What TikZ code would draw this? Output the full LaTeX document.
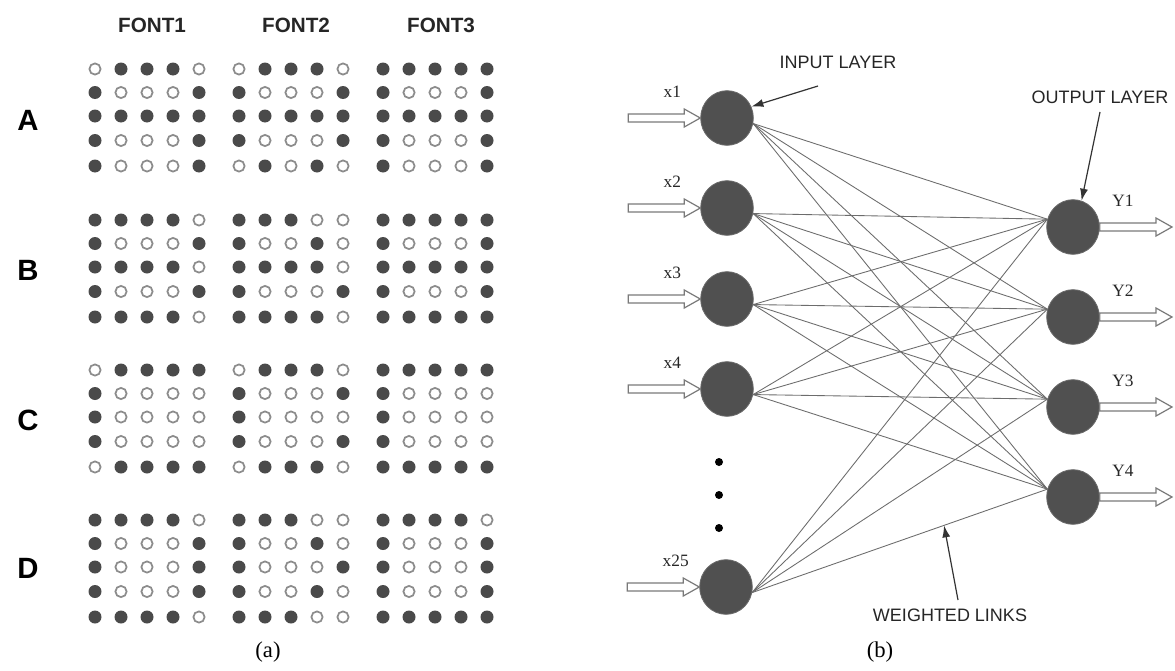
\documentclass[tikz,border=0pt]{standalone}
\usepackage{fontspec}
\setmainfont{Liberation Serif}
\setsansfont{Liberation Sans}
\usetikzlibrary{arrows.meta,calc,shapes.geometric}
\definecolor{dotdark}{HTML}{4A4A4A}
\definecolor{dotgray}{HTML}{8C8C8C}
\definecolor{neurfill}{HTML}{505050}
\definecolor{neurdraw}{HTML}{6A6A6A}
\definecolor{linkgray}{HTML}{6C6C6C}
\definecolor{arrgray}{HTML}{7A7A7A}
\newcommand\mydotgrid[3]{%
  \foreach \rw [count=\r from 0] in {#3} {
    \pgfmathsetmacro\yy{#2+{0,23.5,47,71.5,97}[\r]}
    \foreach \v [count=\c from 0] in \rw {
      \ifnum\v=1 \fill[dotfill] ({#1+26*\c},\yy) circle[radius=6.5];
      \else \draw[dotopen] ({#1+26*\c},\yy) circle[radius=5.6];\fi
    }}}
\newcommand\hollowarrow[2]{%
  \draw[harrow] ($(#1)+(0,-4)$) -- ($(#2)+(-16,-4)$) -- ($(#2)+(-16,-9)$) -- (#2)
    -- ($(#2)+(-16,9)$) -- ($(#2)+(-16,4)$) -- ($(#1)+(0,4)$) -- cycle;}
\begin{document}
\begin{tikzpicture}[x=0.75pt,y=-0.75pt,
  dotfill/.style={fill=dotdark},
  dotopen/.style={draw=dotgray, line width=1.3pt, fill=white},
  neuron/.style={ellipse, minimum width=39.5pt, minimum height=41pt, inner sep=0pt,
    fill=neurfill, draw=neurdraw, line width=0.6pt},
  link/.style={draw=linkgray, line width=0.65pt},
  harrow/.style={draw=arrgray, line width=0.9pt, fill=white, line join=miter},
  ptr/.style={draw=black!80, line width=0.9pt, -{Latex[length=9pt,width=6pt]}},
  hdr/.style={font=\sffamily\bfseries\fontsize{15.5}{17}\selectfont, text=black!85},
  letter/.style={font=\sffamily\bfseries\fontsize{22}{25}\selectfont},
  captxt/.style={font=\rmfamily\fontsize{17}{20}\selectfont},
  xlab/.style={font=\rmfamily\fontsize{13}{15}\selectfont, anchor=west, text=black!85},
  ylab/.style={font=\rmfamily\fontsize{13}{15}\selectfont, text=black!85},
  lay/.style={font=\sffamily\fontsize{13.5}{16}\selectfont, text=black!85},
  ell/.style={circle, fill=black, minimum size=6pt, inner sep=0pt}]
\useasboundingbox (0,0) rectangle (1175,671);
\fill[white] (0,0) rectangle (1175,671);

% ---------- panel (a) ----------
\node[hdr] (f1) at (152,25) {FONT1};
\node[hdr] (f2) at (296,25) {FONT2};
\node[hdr] (f3) at (441,25) {FONT3};
\node[letter] (lA) at (28,120) {A};
\node[letter] (lB) at (28,270) {B};
\node[letter] (lC) at (28,420) {C};
\node[letter] (lD) at (28,568) {D};

% A
\mydotgrid{95}{69}{{0,1,1,1,0},{1,0,0,0,1},{1,1,1,1,1},{1,0,0,0,1},{1,0,0,0,1}}
\mydotgrid{239}{69}{{0,1,1,1,0},{1,0,0,0,1},{1,1,1,1,1},{1,0,0,0,1},{0,1,0,1,0}}
\mydotgrid{383}{69}{{1,1,1,1,1},{1,0,0,0,1},{1,1,1,1,1},{1,0,0,0,1},{1,0,0,0,1}}
% B
\mydotgrid{95}{220}{{1,1,1,1,0},{1,0,0,0,1},{1,1,1,1,0},{1,0,0,0,1},{1,1,1,1,0}}
\mydotgrid{239}{220}{{1,1,1,0,0},{1,0,0,1,0},{1,1,1,1,0},{1,0,0,0,1},{1,1,1,1,0}}
\mydotgrid{383}{220}{{1,1,1,1,1},{1,0,0,0,1},{1,1,1,1,1},{1,0,0,0,1},{1,1,1,1,1}}
% C
\mydotgrid{95}{370}{{0,1,1,1,1},{1,0,0,0,0},{1,0,0,0,0},{1,0,0,0,0},{0,1,1,1,1}}
\mydotgrid{239}{370}{{0,1,1,1,0},{1,0,0,0,1},{1,0,0,0,0},{1,0,0,0,1},{0,1,1,1,0}}
\mydotgrid{383}{370}{{1,1,1,1,1},{1,0,0,0,0},{1,0,0,0,0},{1,0,0,0,0},{1,1,1,1,1}}
% D
\mydotgrid{95}{520}{{1,1,1,1,0},{1,0,0,0,1},{1,0,0,0,1},{1,0,0,0,1},{1,1,1,1,0}}
\mydotgrid{239}{520}{{1,1,1,0,0},{1,0,0,1,0},{1,0,0,0,1},{1,0,0,1,0},{1,1,1,0,0}}
\mydotgrid{383}{520}{{1,1,1,1,0},{1,0,0,0,1},{1,0,0,0,1},{1,0,0,0,1},{1,1,1,1,1}}

\node[captxt] (capa) at (268,652) {(a)};

% ---------- panel (b) ----------
\coordinate (x1c) at (727,118);
\coordinate (x2c) at (727,208);
\coordinate (x3c) at (727,299);
\coordinate (x4c) at (727,389);
\coordinate (x25c) at (726,587);
\coordinate (y1c) at (1073,227);
\coordinate (y2c) at (1073,317);
\coordinate (y3c) at (1073,407);
\coordinate (y4c) at (1073,497);

\path (x1c) node[neuron, fill=none, draw=none] (x1) {}
      (x2c) node[neuron, fill=none, draw=none] (x2) {}
      (x3c) node[neuron, fill=none, draw=none] (x3) {}
      (x4c) node[neuron, fill=none, draw=none] (x4) {}
      (x25c) node[neuron, fill=none, draw=none] (x25) {}
      (y1c) node[neuron, fill=none, draw=none] (Y1) {}
      (y2c) node[neuron, fill=none, draw=none] (Y2) {}
      (y3c) node[neuron, fill=none, draw=none] (Y3) {}
      (y4c) node[neuron, fill=none, draw=none] (Y4) {};

\foreach \i in {x1,x2,x3,x4,x25}
  \foreach \o in {Y1,Y2,Y3,Y4}
    \draw[link] (\i.-12) -- (\o.163);

\foreach \n in {x1,x2,x3,x4,x25,Y1,Y2,Y3,Y4}
  \node[neuron] at (\n) {};

% vertical ellipsis
\node[ell] (d1) at (719,462) {};
\node[ell] (d2) at (719,495) {};
\node[ell] (d3) at (719,528) {};

% input labels and arrows
\foreach \n/\t in {x1/x1,x2/x2,x3/x3,x4/x4,x25/x25} {
  \node[xlab] (l\n) at ($(\n.center)+(-68,-26)$) {\t};
  \coordinate (s\n) at ($(\n.west)+(-72,0)$);
  \hollowarrow{s\n}{\n.west}
}
% output labels and arrows
\foreach \n in {Y1,Y2,Y3,Y4} {
  \node[ylab] (l\n) at ($(\n.center)+(50,-26)$) {\n};
  \coordinate (e\n) at ($(\n.center)+(99,0)$);
  \hollowarrow{\n.east}{e\n}
}

% layer labels
\node[lay] (inl) at (838,62) {INPUT LAYER};
\coordinate (inp) at (818,86);
\draw[ptr] (inp) -- (x1.25);
\node[lay] (outl) at (1100,97) {OUTPUT LAYER};
\coordinate (outp) at (1100,112);
\draw[ptr] (outp) -- (Y1.72);
\node[lay] (wl) at (950,615) {WEIGHTED LINKS};
\coordinate (wlp) at (958,600);
\draw[ptr] (wlp) -- ($(x25.-12)!0.65!(Y4.163)$);

\node[captxt] (capb) at (880,652) {(b)};
\end{tikzpicture}
\end{document}
